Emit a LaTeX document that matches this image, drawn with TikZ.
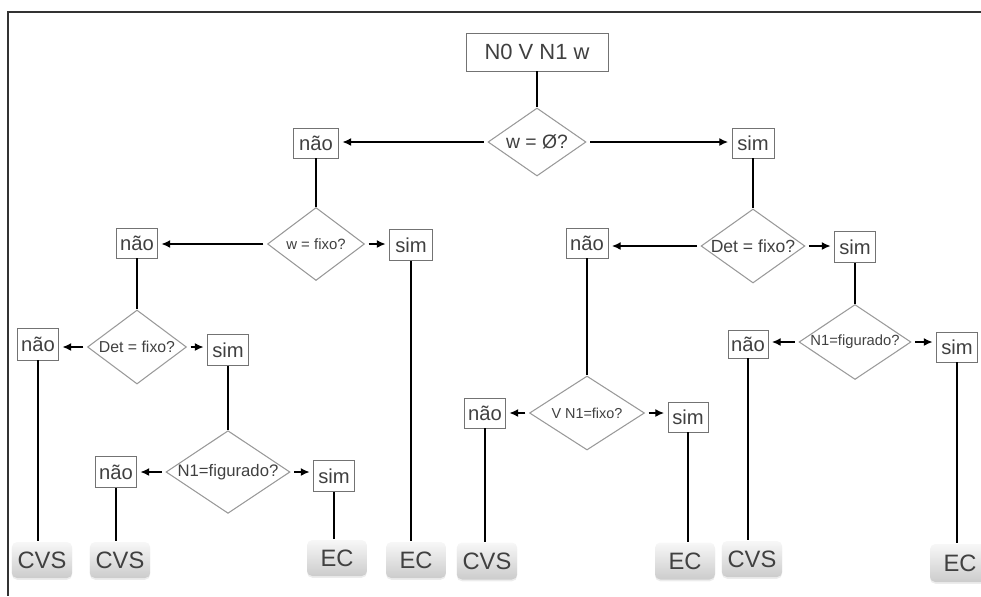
\documentclass[tikz,border=0pt]{standalone}
\usepackage{fontspec}
\setmainfont{Liberation Sans}
\usetikzlibrary{arrows.meta, shapes.geometric, shadows}

\tikzset{
  answer/.style={draw=black!55, line width=0.5pt, rectangle, inner sep=0pt, minimum width=0.82cm, minimum height=0.6cm,
    text=black!75, font=\fontsize{11.5}{13}\selectfont},
  question/.style={draw=black!40, line width=0.6pt, diamond, inner sep=0pt, aspect=1.5, text=black!75},
  result/.style={rectangle, rounded corners=3pt, top color=black!3, bottom color=black!20,
    minimum width=1.2cm, minimum height=0.72cm, text=black!75, font=\fontsize{13.5}{15}\selectfont,
    drop shadow={opacity=0.15, shadow xshift=0pt, shadow yshift=-1pt}},
  branch/.style={-{Latex[length=5pt, width=4.5pt]}, shorten >=2pt, shorten <=2pt},
}

\begin{document}
\begin{tikzpicture}[x=0.02cm, y=-0.02cm, line width=0.7pt]
        \useasboundingbox (0,0) rectangle (981,596);
        % Frame (top and left)
        \draw [line width=1.2pt, black!80] (981,12) -- (8,12) -- (8,596);

        % Root and first question
        \node[draw=black!55, line width=0.5pt, inner sep=0pt, minimum width=2.84cm, minimum height=0.76cm, text=black!75,
              font=\fontsize{12.5}{14}\selectfont] (start) at (537,52) {N0 V N1 w};
        \node[question, minimum width=1.96cm, minimum height=1.36cm, font=\fontsize{11}{13}\selectfont] (q0) at (537,142) {w = Ø?};
        \node[answer, minimum width=0.9cm] (nao1) at (316,143) {não};
        \node[answer, minimum width=0.84cm] (sim1) at (753,143) {sim};

        % Left branch: w = fixo?
        \node[question, minimum width=1.94cm, minimum height=1.46cm, font=\fontsize{8.5}{10}\selectfont] (q1) at (316,244) {w = fixo?};
        \node[answer] (nao2) at (137,243) {não};
        \node[answer, minimum width=0.86cm, minimum height=0.62cm] (sim2) at (411,245) {sim};
        \node[result] (ec1) at (416,560) {EC};

        % Det = fixo? (left)
        \node[question, minimum width=1.98cm, minimum height=1.48cm, font=\fontsize{9}{11}\selectfont] (q2) at (137,347) {Det = fixo?};
        \node[answer, minimum height=0.64cm] (nao3) at (38,344) {não};
        \node[answer, minimum height=0.62cm] (sim3) at (228,350) {sim};
        \node[result, minimum width=1.18cm] (cvs1) at (42,560) {CVS};

        % N1=figurado? (left)
        \node[question, minimum width=2.3cm, minimum height=1.5cm, font=\fontsize{9.5}{11}\selectfont] (q3) at (228,472) {N1=figurado?};
        \node[answer, minimum height=0.62cm] (nao4) at (116,472) {não};
        \node[answer, minimum height=0.62cm] (sim4) at (334,476) {sim};
        \node[result, minimum width=1.18cm] (cvs2) at (120,560) {CVS};
        \node[result] (ec2) at (337,558) {EC};

        % Right branch: Det = fixo?
        \node[question, minimum width=2.0cm, minimum height=1.48cm, font=\fontsize{10}{12}\selectfont] (q4) at (753,246) {Det = fixo?};
        \node[answer, minimum width=0.84cm] (nao5) at (587,243) {não};
        \node[answer, minimum height=0.62cm] (sim5) at (855,247) {sim};

        % V N1=fixo?
        \node[question, minimum width=2.3cm, minimum height=1.48cm, font=\fontsize{8.2}{10}\selectfont] (q5) at (587,413) {V N1=fixo?};
        \node[answer] (nao6) at (485,413) {não};
        \node[answer, minimum width=0.8cm] (sim6) at (688,417) {sim};
        \node[result, minimum width=1.18cm, minimum height=0.74cm] (cvs3) at (487,561) {CVS};
        \node[result, minimum height=0.74cm] (ec3) at (685,561) {EC};

        % N1=figurado? (right)
        \node[question, minimum width=2.24cm, minimum height=1.5cm, font=\fontsize{8.4}{10}\selectfont] (q6) at (855,342) {N1=figurado?};
        \node[answer, minimum width=0.8cm, minimum height=0.56cm] (nao7) at (748,344) {não};
        \node[answer] (sim7) at (957,347) {sim};
        \node[result, minimum width=1.18cm] (cvs4) at (752,559) {CVS};
        \node[result, minimum height=0.76cm] (ec4) at (960,563) {EC};

        % Connectors
        \draw (start) -- (q0);
        \draw [branch] (q0.west) -- (q0.west -| nao1.east);
        \draw [branch] (q0.east) -- (q0.east -| sim1.west);
        \draw (nao1) -- (q1);
        \draw (sim1) -- (q4);

        \draw [branch] (q1.west) -- (q1.west -| nao2.east);
        \draw [branch] (q1.east) -- (q1.east -| sim2.west);
        \draw (sim2.south) -- (sim2.south |- ec1.north);
        \draw (nao2) -- (q2);

        \draw [branch] (q2.west) -- (q2.west -| nao3.east);
        \draw [branch] (q2.east) -- (q2.east -| sim3.west);
        \draw (nao3.south) -- (nao3.south |- cvs1.north);
        \draw (sim3) -- (q3);

        \draw [branch] (q3.west) -- (q3.west -| nao4.east);
        \draw [branch] (q3.east) -- (q3.east -| sim4.west);
        \draw (nao4.south) -- (nao4.south |- cvs2.north);
        \draw (sim4.south) -- (sim4.south |- ec2.north);

        \draw [branch] (q4.west) -- (q4.west -| nao5.east);
        \draw [branch] (q4.east) -- (q4.east -| sim5.west);
        \draw (nao5) -- (q5);
        \draw (sim5) -- (q6);

        \draw [branch] (q5.west) -- (q5.west -| nao6.east);
        \draw [branch] (q5.east) -- (q5.east -| sim6.west);
        \draw (nao6.south) -- (nao6.south |- cvs3.north);
        \draw (sim6.south) -- (sim6.south |- ec3.north);

        \draw [branch] (q6.west) -- (q6.west -| nao7.east);
        \draw [branch] (q6.east) -- (q6.east -| sim7.west);
        \draw (nao7.south) -- (nao7.south |- cvs4.north);
        \draw (sim7.south) -- (sim7.south |- ec4.north);
    \end{tikzpicture}
\end{document}
